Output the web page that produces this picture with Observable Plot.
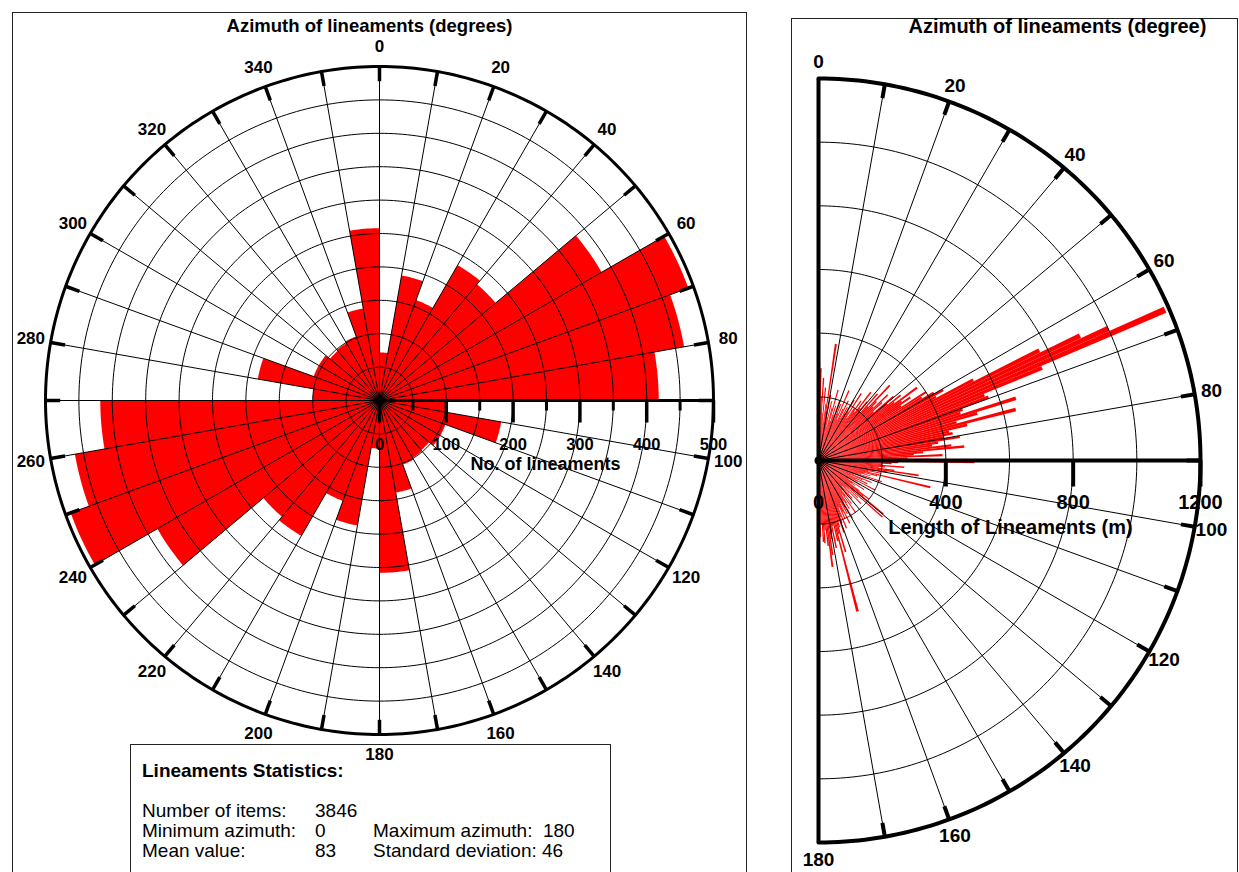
<!DOCTYPE html>
<html><head><meta charset="utf-8">
<script src="https://cdn.jsdelivr.net/npm/d3@7"></script>
<script src="https://cdn.jsdelivr.net/npm/@observablehq/plot@0.6"></script>
<style>
body{margin:0;background:#fff;font-family:"Liberation Sans",Arial,sans-serif;}
#page{position:relative;width:1239px;height:872px;overflow:hidden;background:#fff;}
.abs{position:absolute;white-space:pre;line-height:1;color:#000;}
.frame{position:absolute;border:1.5px solid #222;box-sizing:border-box;}
#leftPlot,#rightPlot{position:absolute;top:0;}
#leftPlot{left:0;} #rightPlot{left:770px;}
</style></head><body>
<div id="page">
  <div class="frame" style="left:12px;top:12px;width:735px;height:900px;"></div>
  <div class="frame" style="left:791px;top:18px;width:447px;height:900px;"></div>
  <div id="leftPlot"></div>
  <div id="rightPlot"></div>
  <div class="frame" style="left:130px;top:744px;width:481px;height:200px;border-width:1px;"></div>
  <div id="txt"></div>
</div>
<script>
// ---------------- DATA ----------------
// Left rose: 10-degree bins (start azimuth), counts; mirrored at +180
const leftBinStart = [0,10,20,30,40,50,60,70,80,90,100,110,120,130,140,150,160,170];
const leftCounts   = [72,190,160,234,227,384,492,463,418,100,185,105,105,97,99,102,140,258];
const leftRings = [50,100,150,200,250,300,350,400,450];
const leftOuter = 500;
const leftAxisMajor = [0,100,200,300,400,500];
const leftAxisMinor = [50,150,250,350,450];
const leftAngleLabels = [0,20,40,60,80,100,120,140,160,180,200,220,240,260,280,300,320,340];
const leftTitle = "Azimuth of lineaments (degrees)";
const leftAxisTitle = "No. of lineaments";

// Right half rose: 1-degree bins 0..179, length of lineaments (m)
const rightLengths = [
310,290,200,260,150,230,120,180,370,160,
210,140,190,110,170,230,130,180,150,200,
120,190,160,240,140,180,210,150,190,170,
220,180,250,160,200,230,190,270,210,240,
200,280,230,325,260,240,300,270,230,310,
280,330,300,385,320,350,310,400,380,420,
450,420,548,775,910,1000,1187,760,560,570,
480,470,650,520,450,640,480,420,430,400,
450,380,360,420,460,330,300,390,280,350,
490,250,230,200,270,210,190,240,318,220,
180,200,160,361,190,150,170,140,210,130,
160,120,180,150,110,170,130,200,140,120,
150,110,170,130,140,120,160,199,180,264,
150,268,130,170,120,190,140,110,160,130,
150,120,170,140,200,130,160,180,150,210,
170,190,150,220,180,200,160,230,190,210,
240,200,220,300,239,490,260,210,280,230,
250,300,337,270,220,260,256,200,240,290];
const rightRings = [200,400,600,800,1000];
const rightOuter = 1200;
const rightAxisMajor = [0,400,800,1200];
const rightAngleLabels = [0,20,40,60,80,100,120,140,160,180];
const rightTitle = "Azimuth of lineaments (degree)";
const rightAxisTitle = "Length of Lineaments (m)";

const statsTitle = "Lineaments Statistics:";
const statsRows = [
  ["Number of items:", "3846", ""],
  ["Minimum azimuth:", "0", "Maximum azimuth:  180"],
  ["Mean value:", "83", "Standard deviation: 46"]
];

// ---------------- HELPERS ----------------
const FONT = "'Liberation Sans', Arial, sans-serif";
const rad = d => d * Math.PI / 180;
const px = (r, a) => r * Math.sin(rad(a));
const py = (r, a) => r * Math.cos(rad(a));
function arcPts(id, r, a0, a1, step) {
  const out = [];
  const n = Math.max(1, Math.round((a1 - a0) / step));
  for (let i = 0; i <= n; i++) { const a = a0 + (a1 - a0) * i / n; out.push({id, x: px(r, a), y: py(r, a)}); }
  return out;
}
function wedge(id, r, a0, a1, step) {
  return [{id, x: 0, y: 0}, ...arcPts(id, r, a0, a1, step), {id, x: 0, y: 0}];
}
const range = (a, b, s) => d3.range(a, b + 1e-9, s);

// ---------------- LEFT ROSE ----------------
{
  const binW = 10;
  const wedges = [];
  leftBinStart.forEach((a, i) => {
    wedges.push(...wedge("w" + i, leftCounts[i], a, a + binW, 1));
    wedges.push(...wedge("m" + i, leftCounts[i], a + 180, a + 180 + binW, 1));
  });
  const rings = leftRings.flatMap(r => arcPts("r" + r, r, 0, 360, 1));
  const outer = arcPts("o", leftOuter, 0, 360, 1);
  const spokes = range(0, 350, 10);
  const tickLen = 22;
  const labR = 530;
  const pxPerUnit = 334 / 500;
  const u = p => p / pxPerUnit;

  const plot = Plot.plot({
    width: 770, height: 872, margin: 0,
    x: {domain: [-500, 500], range: [379 - 334, 379 + 334], axis: null},
    y: {domain: [-500, 500], range: [400 + 334, 400 - 334], axis: null},
    style: {background: "transparent", overflow: "visible", fontFamily: FONT},
    marks: [
      Plot.line(wedges, {x: "x", y: "y", z: "id", fill: "#ff0000", stroke: "none", curve: "linear"}),
      Plot.line(rings, {x: "x", y: "y", z: "id", stroke: "#000", strokeWidth: 1}),
      Plot.link(spokes, {x1: () => 0, y1: () => 0, x2: a => px(leftOuter, a), y2: a => py(leftOuter, a), stroke: "#000", strokeWidth: 1}),
      Plot.line(outer, {x: "x", y: "y", stroke: "#000", strokeWidth: 3}),
      Plot.link(spokes, {x1: a => px(leftOuter, a), y1: a => py(leftOuter, a), x2: a => px(leftOuter - tickLen, a), y2: a => py(leftOuter - tickLen, a), stroke: "#000", strokeWidth: 3.5}),
      Plot.link([leftOuter], {x1: () => 0, y1: () => 0, x2: d => d, y2: () => 0, stroke: "#000", strokeWidth: 3}),
      Plot.link(leftAxisMajor, {x1: d => d, y1: () => 0, x2: d => d, y2: () => -u(22), stroke: "#000", strokeWidth: 3.5}),
      Plot.link(leftAxisMinor, {x1: d => d, y1: () => 0, x2: d => d, y2: () => -u(10), stroke: "#000", strokeWidth: 3}),
      Plot.dot([0], {x: () => 0, y: () => 0, r: 5, fill: "#000", stroke: "none"}),
      Plot.text(leftAxisMajor, {x: d => d, y: () => -u(44), text: d => String(d), fontSize: 16.5, fontWeight: "bold", fill: "#000"}),
      Plot.text([leftAxisTitle], {x: () => u(166), y: () => -u(64), text: d => d, fontSize: 18, fontWeight: "bold", fill: "#000"}),
      Plot.text(leftAngleLabels, {x: a => px(labR, a), y: a => py(labR, a), text: a => String(a), fontSize: 17, fontWeight: "bold", fill: "#000"})
    ]
  });
  document.getElementById("leftPlot").append(plot);
}

// ---------------- RIGHT HALF ROSE ----------------
{
  const wedges = rightLengths.map((v, d) => wedge("d" + d, v, d, d + 1, 1)).flat();
  const rings = rightRings.flatMap(r => arcPts("r" + r, r, 0, 180, 1));
  const outer = arcPts("o", rightOuter, 0, 180, 1);
  const spokes = range(10, 170, 10);
  const pxPerM = 382 / 1200;
  const m = p => p / pxPerM;
  const cx = 818 - 770;
  const labR = m(399);

  const plot = Plot.plot({
    width: 469, height: 872, margin: 0,
    x: {domain: [-1200, 1200], range: [cx - 382, cx + 382], axis: null},
    y: {domain: [-1200, 1200], range: [460 + 382, 460 - 382], axis: null},
    style: {background: "transparent", overflow: "visible", fontFamily: FONT},
    marks: [
      Plot.line(wedges, {x: "x", y: "y", z: "id", fill: "#ff0000", stroke: "none", curve: "linear"}),
      Plot.line(rings, {x: "x", y: "y", z: "id", stroke: "#000", strokeWidth: 1}),
      Plot.link(spokes, {x1: () => 0, y1: () => 0, x2: a => px(rightOuter, a), y2: a => py(rightOuter, a), stroke: "#000", strokeWidth: 1}),
      Plot.line(outer, {x: "x", y: "y", stroke: "#000", strokeWidth: 4}),
      Plot.link([rightOuter], {x1: () => 0, y1: d => d, x2: () => 0, y2: d => -d, stroke: "#000", strokeWidth: 4}),
      Plot.link(spokes, {x1: a => px(rightOuter, a), y1: a => py(rightOuter, a), x2: a => px(rightOuter - m(14), a), y2: a => py(rightOuter - m(14), a), stroke: "#000", strokeWidth: 4}),
      Plot.link([rightOuter], {x1: () => 0, y1: () => 0, x2: d => d, y2: () => 0, stroke: "#000", strokeWidth: 4}),
      Plot.link(rightAxisMajor.slice(1), {x1: d => d, y1: () => 0, x2: d => d, y2: () => -m(26), stroke: "#000", strokeWidth: 4}),
      Plot.dot([0], {x: () => 0, y: () => 0, r: 4, fill: "#000", stroke: "none"}),
      Plot.text(rightAxisMajor, {x: d => d, y: () => -m(42), text: d => String(d), fontSize: 20, fontWeight: "bold", fill: "#000"}),
      Plot.text([rightAxisTitle], {x: () => m(192), y: () => -m(67), text: d => d, fontSize: 20, fontWeight: "bold", fill: "#000"}),
      Plot.text(rightAngleLabels, {x: a => px(labR, a), y: a => py(labR, a), text: a => String(a), fontSize: 19, fontWeight: "bold", fill: "#000"})
    ]
  });
  document.getElementById("rightPlot").append(plot);
}

// ---------------- HTML TEXT ----------------
{
  const host = document.getElementById("txt");
  function put(text, x, baseline, size, bold, anchor) {
    const d = document.createElement("div");
    d.className = "abs";
    d.textContent = text;
    d.style.fontSize = size + "px";
    d.style.fontWeight = bold ? "bold" : "normal";
    d.style.top = (baseline - 0.8465 * size) + "px";
    d.style.left = x + "px";
    if (anchor === "middle") d.style.transform = "translateX(-50%)";
    host.append(d);
  }
  put(leftTitle, 369.5, 33, 18.5, true, "middle");
  put(rightTitle, 1057.5, 33, 20, true, "middle");
  put(statsTitle, 142, 777, 19, true);
  const ys = [817, 837, 857];
  statsRows.forEach((row, i) => {
    put(row[0], 142, ys[i], 19, false);
    put(row[1], 315, ys[i], 19, false);
    if (row[2]) put(row[2], 373, ys[i], 19, false);
  });
}
</script>
</body></html>
